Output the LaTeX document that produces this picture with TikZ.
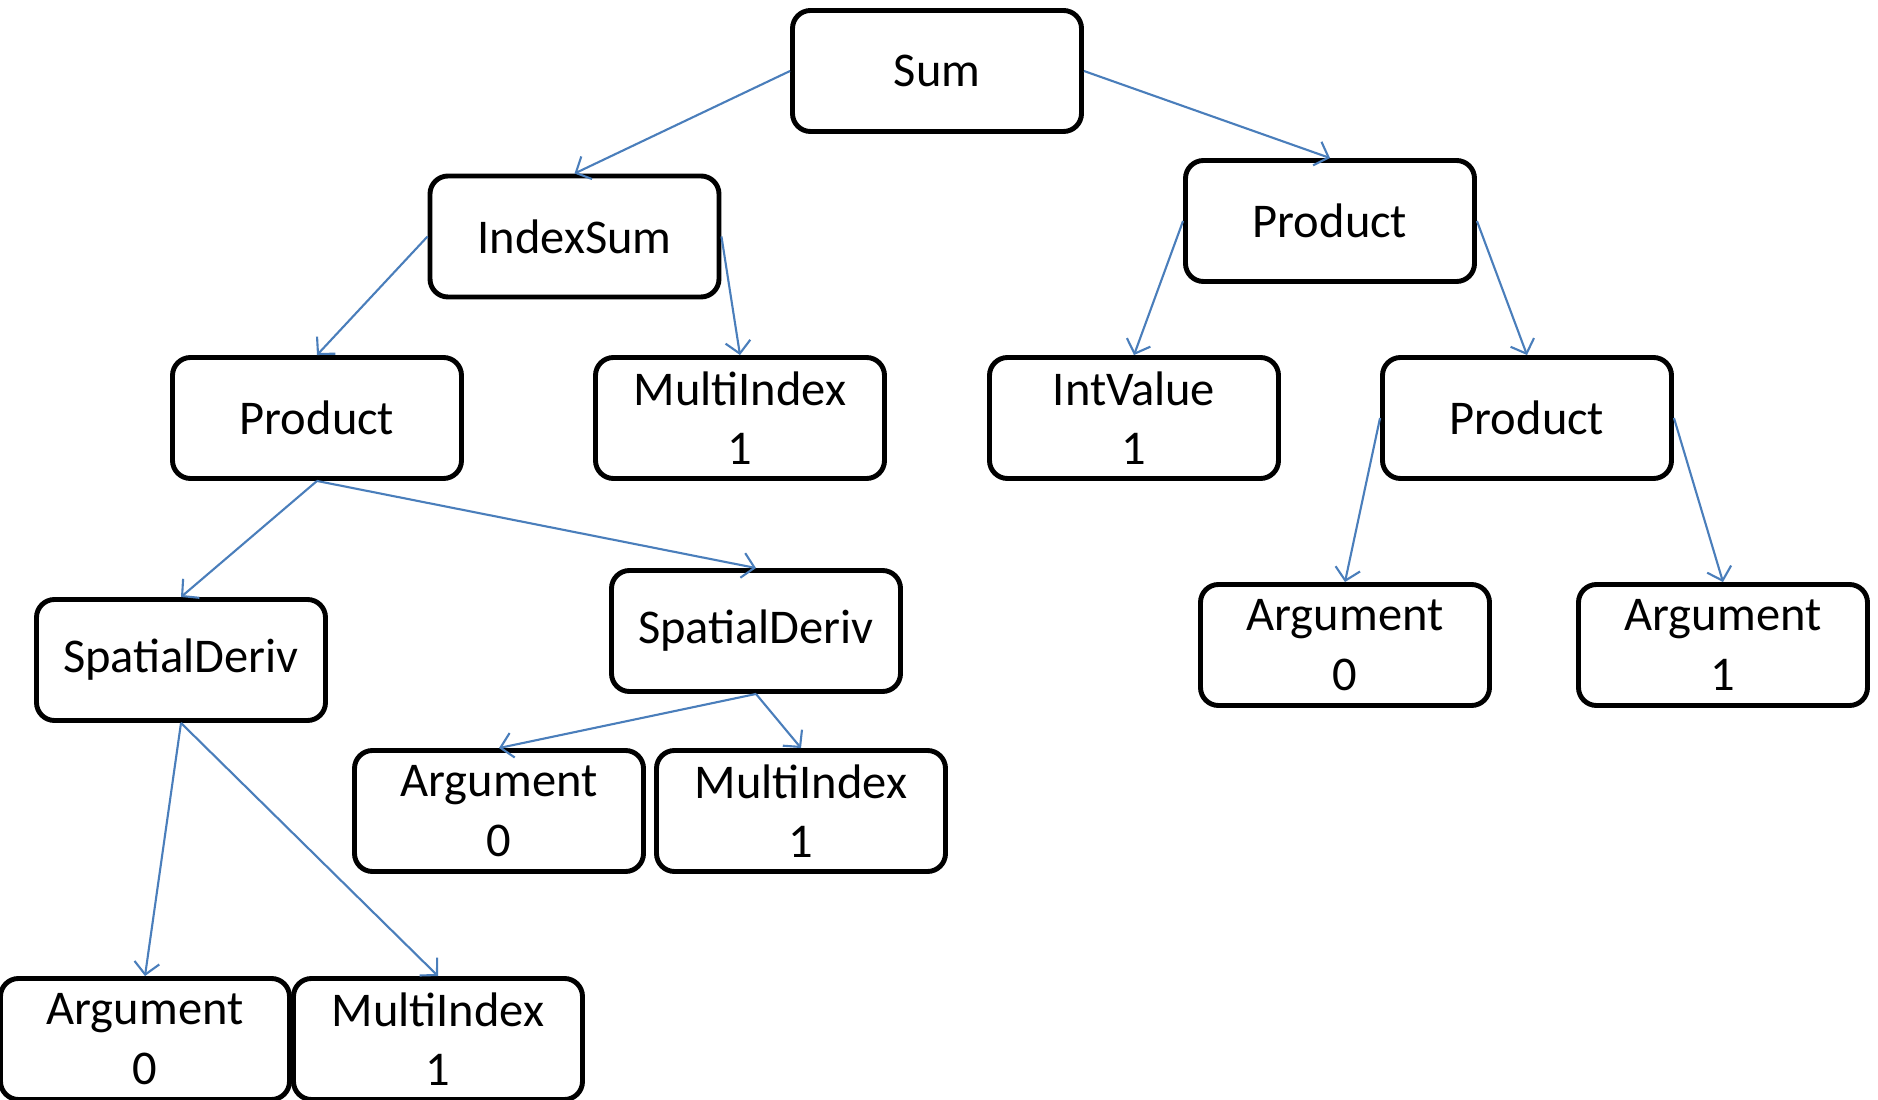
\documentclass[tikz,border=0pt]{standalone}
\usepackage{fontspec}
\setmainfont{Carlito}
\usepackage{tikz}
\usetikzlibrary{arrows.meta,positioning}
\definecolor{linkblue}{RGB}{74,126,187}

\begin{document}
\begin{tikzpicture}[
    box/.style={rectangle, draw=black, line width=1.4pt, rounded corners=0.18cm, minimum width=2.89cm, minimum height=1.21cm, align=center, inner sep=2pt, font=\fontsize{13.8}{16.9}\selectfont},
    arr/.style={-{Straight Barb[length=1.2mm, width=2.5mm]}, line width=0.6pt, linkblue}
]
    \useasboundingbox (0,0) rectangle (18.78,10.99);

    % Top levels
    \node[box] (sum)    at (9.37,10.28) {Sum};
    \node[box] (isum)   at (5.745,8.625) {IndexSum};
    \node[box] (prodR)  at (13.30,8.78) {Product};
    \node[box] (prodL)  at (3.17,6.81) {Product};
    \node[box] (midx)   at (7.40,6.81) {MultiIndex\\1};
    \node[box] (ival)   at (11.34,6.81) {IntValue\\1};
    \node[box] (prodRR) at (15.27,6.81) {Product};

    % Derivatives and leaves
    \node[box] (sdL)    at (1.81,4.39) {SpatialDeriv};
    \node[box] (sdR)    at (7.56,4.68) {SpatialDeriv};
    \node[box] (argR0)  at (13.45,4.54) {Argument\\0};
    \node[box] (argR1)  at (17.23,4.54) {Argument\\1};
    \node[box] (argM)   at (4.99,2.88) {Argument\\0};
    \node[box] (midxM)  at (8.01,2.88) {MultiIndex\\1};
    \node[box] (argB)   at (1.45,0.60) {Argument\\0};
    \node[box] (midxB)  at (4.38,0.60) {MultiIndex\\1};

    % Links
    \draw[arr] (sum.west) -- (isum.north);
    \draw[arr] (sum.east) -- (prodR.north);
    \draw[arr] (isum.west) -- (prodL.north);
    \draw[arr] (isum.east) -- (midx.north);
    \draw[arr] (prodR.west) -- (ival.north);
    \draw[arr] (prodR.east) -- (prodRR.north);
    \draw[arr] (prodL.south) -- (sdL.north);
    \draw[arr] (prodL.south) -- (sdR.north);
    \draw[arr] (prodRR.west) -- (argR0.north);
    \draw[arr] (prodRR.east) -- (argR1.north);
    \draw[arr] (sdR.south) -- (argM.north);
    \draw[arr] (sdR.south) -- (midxM.north);
    \draw[arr] (sdL.south) -- (argB.north);
    \draw[arr] (sdL.south) -- (midxB.north);
\end{tikzpicture}
\end{document}
